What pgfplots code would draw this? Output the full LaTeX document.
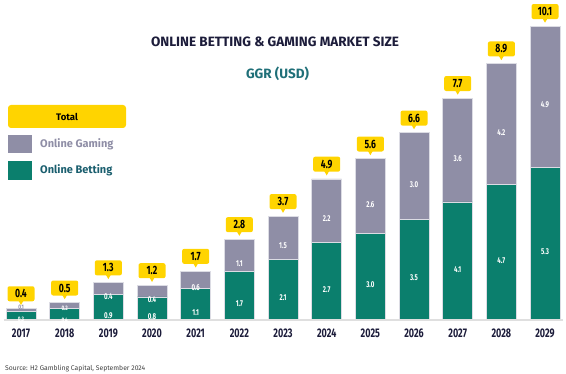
\documentclass[border=0pt]{standalone}
\usepackage{fontspec}
\setmainfont{Fira Sans}
\newfontfamily\cond[FakeStretch=0.72]{Fira Sans}
\usepackage{pgfplots}
\pgfplotsset{compat=1.18}
\usetikzlibrary{shapes.geometric}
\definecolor{bet}{HTML}{0B7F6D}
\definecolor{gam}{HTML}{8F8EA6}
\definecolor{yel}{HTML}{FFD400}
\definecolor{navy}{HTML}{1C1C3A}
\definecolor{sub}{HTML}{1F6F78}
\definecolor{betxt}{HTML}{1A5E6E}
\definecolor{edge}{HTML}{DCDCE4}
\protected\def\up#1#2{\raisebox{#1}[\height][\depth]{\fontsize{6.5}{7}\selectfont #2}}
\protected\def\gl#1#2{\raisebox{#1}[\height][\depth]{\fontsize{6.5}{7}\selectfont\textcolor{gam}{#2}}}
\pgfplotsset{base/.style={
  at={(-0.83pt,54pt)}, anchor=south west,
  scale only axis, width=567.7pt, height=302.4pt,
  xmin=-0.5, xmax=12.5, ymin=0, ymax=10.5,
  enlargelimits=false, clip=false,
  point meta=explicit symbolic}}
\begin{document}
\begin{tikzpicture}
\path[use as bounding box] (0,0) rectangle (566pt,374pt);
\begin{axis}[base,
  ybar stacked, bar width=30pt,
  axis x line=bottom, axis y line=none,
  x axis line style={draw=none},
  ytick=\empty,
  xtick={0,...,12},
  xticklabels={2017,2018,2019,2020,2021,2022,2023,2024,2025,2026,2027,2028,2029},
  major tick length=0pt,
  xticklabel style={font=\cond\bfseries\fontsize{12.5}{13}\selectfont, text=navy, yshift=-5pt},
]
\draw[gray!25, line width=1.8pt] (axis cs:-0.4,0) -- (axis cs:12.4,0);
\addplot[fill=bet, draw=edge, line width=0.6pt, nodes near coords={\pgfplotspointmeta},
  every node near coord/.append style={anchor=north, yshift=-4pt, inner sep=1pt,
    font=\cond\bfseries\fontsize{8.5}{9}\selectfont, text=white}]
coordinates {(0,0.3)[\up{3.5pt}{0.3}] (1,0.4)[\up{2pt}{0.4}] (2,0.9)[0.9] (3,0.8)[0.8]
 (4,1.1)[1.1] (5,1.7)[1.7] (6,2.1)[2.1] (7,2.7)[2.7] (8,3.0)[3.0] (9,3.5)[3.5]
 (10,4.1)[4.1] (11,4.7)[4.7] (12,5.3)[5.3]};
\addplot[fill=gam, draw=edge, line width=0.6pt, nodes near coords={\pgfplotspointmeta},
  every node near coord/.append style={anchor=north, yshift=-4pt, inner sep=1pt,
    font=\cond\bfseries\fontsize{8.5}{9}\selectfont, text=white}]
coordinates {(0,0.1)[\gl{10pt}{0.1}] (1,0.2)[\up{4.5pt}{0.2}] (2,0.4)[0.4] (3,0.4)[0.4]
 (4,0.6)[0.6] (5,1.1)[1.1] (6,1.5)[1.5] (7,2.2)[2.2] (8,2.6)[2.6] (9,3.0)[3.0]
 (10,3.6)[3.6] (11,4.2)[4.2] (12,4.9)[4.9]};
\end{axis}
\begin{axis}[base, hide axis]
\addplot[draw=none, mark=none, nodes near coords={\pgfplotspointmeta},
  every node near coord/.append style={shape=rectangle, fill=yel, rounded corners=2pt,
    anchor=south, yshift=7pt,
    minimum width=27pt, minimum height=15pt, inner sep=1pt,
    font=\cond\bfseries\fontsize{12}{12}\selectfont, text=black,
    label={[shape=regular polygon, regular polygon sides=3, shape border rotate=180,
      fill=yel, draw=none, inner sep=0pt, minimum size=7pt, anchor=center,
      label distance=0pt, rounded corners=0pt, yshift=0pt]south:{}}}]
coordinates {(0,0.4)[0.4] (1,0.6)[0.5] (2,1.3)[1.3] (3,1.2)[1.2] (4,1.7)[1.7] (5,2.8)[2.8]
 (6,3.6)[3.7] (7,4.9)[4.9] (8,5.6)[5.6] (9,6.5)[6.6] (10,7.7)[7.7] (11,8.9)[8.9] (12,10.2)[10.1]};
\end{axis}
\node[font=\bfseries\fontsize{13.5}{15}\selectfont, text=navy] at (275pt,332pt) {ONLINE BETTING \& GAMING MARKET SIZE};
\node[font=\bfseries\fontsize{13.5}{15}\selectfont, text=sub] at (277.5pt,300pt) {GGR (USD)};
\fill[yel, rounded corners=3pt] (8pt,246pt) rectangle (126pt,269pt);
\node[font=\bfseries\fontsize{9.5}{10}\selectfont, text=black] at (67pt,257.5pt) {Total};
\fill[gam] (8pt,221pt) rectangle (32pt,239pt);
\node[anchor=west, font=\bfseries\fontsize{11}{12}\selectfont, text=gam, inner sep=0pt] at (40pt,230pt) {Online Gaming};
\fill[bet] (8pt,194pt) rectangle (32pt,213pt);
\node[anchor=west, font=\bfseries\fontsize{11}{12}\selectfont, text=betxt, inner sep=0pt] at (40pt,204pt) {Online Betting};
\node[anchor=west, font=\fontsize{6.8}{7}\selectfont, text=black!75, inner sep=0pt] at (5pt,5pt) {Source: H2 Gambling Capital, September 2024};
\end{tikzpicture}
\end{document}
